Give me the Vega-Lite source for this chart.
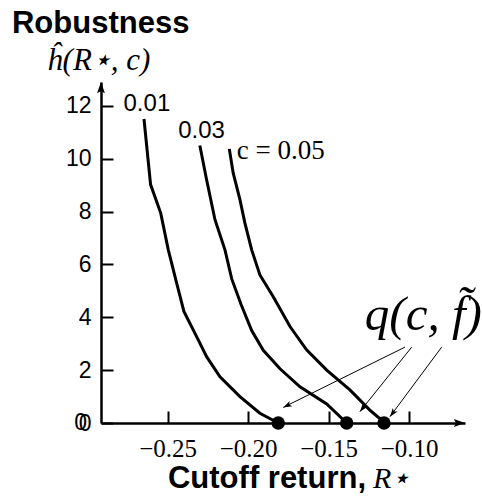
{
  "$schema": "https://vega.github.io/schema/vega-lite/v6.json",
  "width": 364,
  "height": 341,
  "autosize": {"type": "none"},
  "padding": {"left": 101, "top": 82, "right": 17, "bottom": 78},
  "background": "white",
  "config": {
    "view": {"stroke": null},
    "axis": {
      "grid": false,
      "domainColor": "black",
      "domainWidth": 2.5,
      "tickColor": "black",
      "tickWidth": 2,
      "tickSize": -12,
      "labelColor": "black",
      "title": null
    }
  },
  "datasets": {
    "curves": [
      {"c": "0.01", "r": -0.2647, "h": 11.5},
      {"c": "0.01", "r": -0.2606, "h": 9.02},
      {"c": "0.01", "r": -0.2543, "h": 7.94},
      {"c": "0.01", "r": -0.2496, "h": 6.55},
      {"c": "0.01", "r": -0.2444, "h": 5.29},
      {"c": "0.01", "r": -0.2399, "h": 4.22},
      {"c": "0.01", "r": -0.232, "h": 3.27},
      {"c": "0.01", "r": -0.2258, "h": 2.51},
      {"c": "0.01", "r": -0.2175, "h": 1.75},
      {"c": "0.01", "r": -0.2051, "h": 1.0},
      {"c": "0.01", "r": -0.1927, "h": 0.37},
      {"c": "0.01", "r": -0.1813, "h": 0},
      {"c": "0.03", "r": -0.23, "h": 10.5},
      {"c": "0.03", "r": -0.2258, "h": 9.2},
      {"c": "0.03", "r": -0.2206, "h": 7.69},
      {"c": "0.03", "r": -0.2144, "h": 6.55},
      {"c": "0.03", "r": -0.2102, "h": 5.45},
      {"c": "0.03", "r": -0.2045, "h": 4.5},
      {"c": "0.03", "r": -0.1978, "h": 3.5},
      {"c": "0.03", "r": -0.1906, "h": 2.75},
      {"c": "0.03", "r": -0.1802, "h": 2.05},
      {"c": "0.03", "r": -0.1678, "h": 1.37},
      {"c": "0.03", "r": -0.1512, "h": 0.72},
      {"c": "0.03", "r": -0.1388, "h": 0},
      {"c": "0.05", "r": -0.2117, "h": 10.37},
      {"c": "0.05", "r": -0.2093, "h": 9.46},
      {"c": "0.05", "r": -0.2051, "h": 8.45},
      {"c": "0.05", "r": -0.202, "h": 7.56},
      {"c": "0.05", "r": -0.1978, "h": 6.55},
      {"c": "0.05", "r": -0.1927, "h": 5.6},
      {"c": "0.05", "r": -0.1844, "h": 4.78},
      {"c": "0.05", "r": -0.174, "h": 3.65},
      {"c": "0.05", "r": -0.1637, "h": 2.77},
      {"c": "0.05", "r": -0.1512, "h": 2.0},
      {"c": "0.05", "r": -0.1368, "h": 1.25},
      {"c": "0.05", "r": -0.1244, "h": 0.49},
      {"c": "0.05", "r": -0.115, "h": 0}
    ],
    "quantiles": [
      {"c": "0.01", "r": -0.1813, "h": 0},
      {"c": "0.03", "r": -0.1388, "h": 0},
      {"c": "0.05", "r": -0.1156, "h": 0}
    ],
    "pointers": [
      {"c": "0.01", "r": -0.1026, "h": 2.87, "r2": -0.1782, "h2": 0.59},
      {"c": "0.03", "r": -0.0984, "h": 2.87, "r2": -0.1306, "h2": 0.43},
      {"c": "0.05", "r": -0.0798, "h": 2.87, "r2": -0.1119, "h2": 0.24}
    ],
    "axisEnds": [
      {"axis": "y", "r": -0.2914, "h": 12.9},
      {"axis": "x", "r": -0.0653, "h": 0}
    ]
  },
  "encoding": {
    "x": {
      "field": "r",
      "type": "quantitative",
      "scale": {"domain": [-0.2914, -0.0653], "nice": false, "zero": false},
      "axis": {
        "values": [-0.25, -0.2, -0.15, -0.1],
        "format": ".2f",
        "labelFont": "Liberation Serif",
        "labelFontSize": 25,
        "labelPadding": 25
      }
    },
    "y": {
      "field": "h",
      "type": "quantitative",
      "scale": {"domain": [0, 12.9], "nice": false},
      "axis": {
        "values": [0, 2, 4, 6, 8, 10, 12],
        "labelFont": "Liberation Sans",
        "labelFontSize": 23,
        "labelPadding": 22
      }
    }
  },
  "layer": [
    {
      "data": {"name": "curves"},
      "mark": {"type": "line", "color": "black", "strokeWidth": 3},
      "encoding": {"detail": {"field": "c"}}
    },
    {
      "data": {"name": "pointers"},
      "mark": {"type": "rule", "color": "black", "strokeWidth": 1},
      "encoding": {
        "x2": {"field": "r2"},
        "y2": {"field": "h2"}
      }
    },
    {
      "data": {"name": "pointers"},
      "transform": [{"filter": "datum.c === '0.01'"}],
      "mark": {"type": "point", "shape": "M0,0L-0.35,1L0,0.75L0.35,1Z", "filled": true, "color": "black", "size": 300, "angle": 244, "opacity": 1},
      "encoding": {"x": {"field": "r2", "type": "quantitative"}, "y": {"field": "h2", "type": "quantitative"}}
    },
    {
      "data": {"name": "pointers"},
      "transform": [{"filter": "datum.c === '0.03'"}],
      "mark": {"type": "point", "shape": "M0,0L-0.35,1L0,0.75L0.35,1Z", "filled": true, "color": "black", "size": 300, "angle": 219, "opacity": 1},
      "encoding": {"x": {"field": "r2", "type": "quantitative"}, "y": {"field": "h2", "type": "quantitative"}}
    },
    {
      "data": {"name": "pointers"},
      "transform": [{"filter": "datum.c === '0.05'"}],
      "mark": {"type": "point", "shape": "M0,0L-0.35,1L0,0.75L0.35,1Z", "filled": true, "color": "black", "size": 300, "angle": 217, "opacity": 1},
      "encoding": {"x": {"field": "r2", "type": "quantitative"}, "y": {"field": "h2", "type": "quantitative"}}
    },
    {
      "data": {"name": "quantiles"},
      "mark": {"type": "circle", "color": "black", "size": 180, "opacity": 1}
    },
    {
      "data": {"name": "axisEnds"},
      "transform": [{"filter": "datum.axis === 'y'"}],
      "mark": {"type": "point", "shape": "M0,0L-0.35,1L0,0.8L0.35,1Z", "filled": true, "color": "black", "size": 500, "opacity": 1}
    },
    {
      "data": {"name": "axisEnds"},
      "transform": [{"filter": "datum.axis === 'x'"}],
      "mark": {"type": "point", "shape": "M0,0L-0.35,1L0,0.8L0.35,1Z", "filled": true, "color": "black", "size": 500, "angle": 90, "opacity": 1}
    },
    {
      "data": {"values": [
        {"label": "0.01", "r": -0.2629, "h": 12.05},
        {"label": "0.03", "r": -0.2289, "h": 11.05}
      ]},
      "mark": {"type": "text", "font": "Liberation Sans", "fontSize": 24, "color": "black", "baseline": "middle", "align": "center"},
      "encoding": {"text": {"field": "label"}}
    },
    {
      "data": {"values": [{"label": "c = 0.05", "r": -0.2071, "h": 10.3}]},
      "mark": {"type": "text", "font": "Liberation Serif", "fontSize": 27, "color": "black", "baseline": "middle", "align": "left"},
      "encoding": {"text": {"field": "label"}}
    },
    {
      "data": {"values": [{"label": "q(c, f̃)", "r": -0.1275, "h": 3.52}]},
      "mark": {"type": "text", "font": "Liberation Serif", "fontStyle": "italic", "fontSize": 49, "color": "black", "baseline": "alphabetic", "align": "left"},
      "encoding": {"text": {"field": "label"}}
    },
    {
      "data": {"values": [{"label": "ĥ(R⋆, c)", "r": -0.3249, "h": 13.37}]},
      "mark": {"type": "text", "font": "Liberation Serif", "fontStyle": "italic", "fontSize": 31, "color": "black", "baseline": "alphabetic", "align": "left"},
      "encoding": {"text": {"field": "label"}}
    },
    {
      "data": {"values": [{"label": "Robustness", "r": -0.3467, "h": 14.77}]},
      "mark": {"type": "text", "font": "Liberation Sans", "fontWeight": "bold", "fontSize": 31, "color": "black", "baseline": "alphabetic", "align": "left"},
      "encoding": {"text": {"field": "label"}}
    },
    {
      "data": {"values": [{"label": "Cutoff return,", "r": -0.2498, "h": -2.46}]},
      "mark": {"type": "text", "font": "Liberation Sans", "fontWeight": "bold", "fontSize": 31, "color": "black", "baseline": "alphabetic", "align": "left"},
      "encoding": {"text": {"field": "label"}}
    },
    {
      "data": {"values": [{"label": "R⋆", "r": -0.1225, "h": -2.46}]},
      "mark": {"type": "text", "font": "Liberation Serif", "fontStyle": "italic", "fontSize": 30, "color": "black", "baseline": "alphabetic", "align": "left"},
      "encoding": {"text": {"field": "label"}}
    },
    {
      "data": {"values": [{"label": "0", "r": -0.2914, "h": 0}]},
      "mark": {"type": "text", "font": "Liberation Sans", "fontSize": 23, "color": "black", "baseline": "middle", "align": "right", "dx": -14},
      "encoding": {"text": {"field": "label"}}
    }
  ]
}
